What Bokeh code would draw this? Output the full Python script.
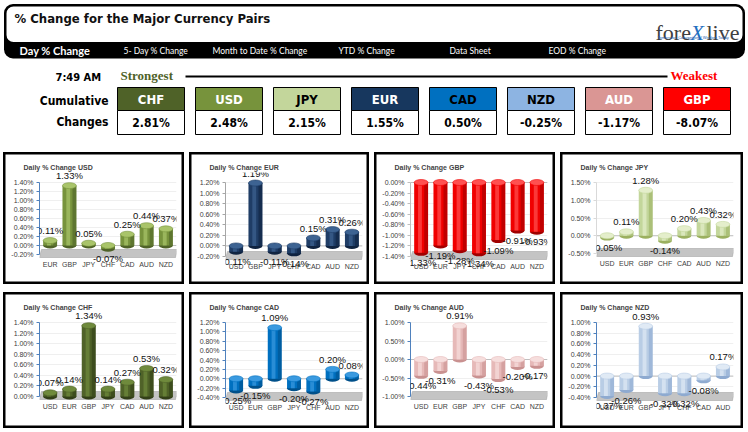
from bokeh.plotting import figure
from bokeh.models import Range1d, ColumnDataSource, LabelSet, FixedTicker, PrintfTickFormatter, Span
from bokeh.layouts import column, row
from bokeh.embed import file_html
from bokeh.resources import INLINE
from bokeh.core.properties import value

# ---------------- data ----------------
rank_ccy = ["CHF", "USD", "JPY", "EUR", "CAD", "NZD", "AUD", "GBP"]
rank_cum = [2.81, 2.48, 2.15, 1.55, 0.50, -0.25, -1.17, -8.07]
nav_items = ["5- Day % Change", "Month to Date % Change", "YTD % Change", "Data Sheet", "EOD % Change"]

usd_cats = ["EUR", "GBP", "JPY", "CHF", "CAD", "AUD", "NZD"]
usd_vals = [0.11, 1.33, 0.05, -0.07, 0.25, 0.44, 0.37]
usd_ticks = [-0.20, 0.00, 0.20, 0.40, 0.60, 0.80, 1.00, 1.20, 1.40]

eur_cats = ["USD", "GBP", "JPY", "CHF", "CAD", "AUD", "NZD"]
eur_vals = [-0.11, 1.19, -0.11, -0.14, 0.15, 0.31, 0.26]
eur_ticks = [-0.20, 0.00, 0.20, 0.40, 0.60, 0.80, 1.00, 1.20]

gbp_cats = ["USD", "EUR", "JPY", "CHF", "CAD", "AUD", "NZD"]
gbp_vals = [-1.33, -1.19, -1.28, -1.34, -1.09, -0.91, -0.93]
gbp_ticks = [-1.40, -1.20, -1.00, -0.80, -0.60, -0.40, -0.20, 0.00]

jpy_cats = ["USD", "EUR", "GBP", "CHF", "CAD", "AUD", "NZD"]
jpy_vals = [-0.05, 0.11, 1.28, -0.14, 0.20, 0.43, 0.32]
jpy_ticks = [-0.50, 0.00, 0.50, 1.00, 1.50]

chf_cats = ["USD", "EUR", "GBP", "JPY", "CAD", "AUD", "NZD"]
chf_vals = [0.07, 0.14, 1.34, 0.14, 0.27, 0.53, 0.32]
chf_ticks = [0.00, 0.20, 0.40, 0.60, 0.80, 1.00, 1.20, 1.40]

cad_cats = ["USD", "EUR", "GBP", "JPY", "CHF", "AUD", "NZD"]
cad_vals = [-0.25, -0.15, 1.09, -0.20, -0.27, 0.20, 0.08]
cad_ticks = [-0.40, -0.20, 0.00, 0.20, 0.40, 0.60, 0.80, 1.00, 1.20]

aud_cats = ["USD", "EUR", "GBP", "JPY", "CHF", "CAD", "NZD"]
aud_vals = [-0.44, -0.31, 0.91, -0.43, -0.53, -0.20, -0.17]
aud_ticks = [-1.00, -0.50, 0.00, 0.50, 1.00]

nzd_cats = ["USD", "EUR", "GBP", "JPY", "CHF", "CAD", "AUD"]
nzd_vals = [-0.37, -0.26, 0.93, -0.32, -0.32, -0.08, 0.17]
nzd_ticks = [-0.40, -0.20, 0.00, 0.20, 0.40, 0.60, 0.80, 1.00]

# ---------------- styles ----------------
COND = value("DejaVu Sans Condensed")
SANS = value("Liberation Sans")
SERIF = value("Liberation Serif")
box_fill = ["#4f6228", "#77933c", "#c3d69b", "#17375e", "#0070c0", "#8db4e2", "#da9694", "#ff0000"]
box_text = ["white", "white", "black", "white", "black", "black", "white", "white"]

# ---------------- header (1 unit = 1 px of the original) ----------------
hdr = figure(width=742, height=145, x_range=Range1d(3, 745), y_range=Range1d(148, 3),
             x_axis_type=None, y_axis_type=None, output_backend="svg", toolbar_location=None,
             min_border=0, outline_line_color=None, background_fill_color="white",
             border_fill_color="white")
hdr.grid.visible = False

hdr.quad(left=[3.5], right=[744.5], top=[3.5], bottom=[58], fill_color="black",
         line_color=None, border_radius=9)
hdr.quad(left=[6], right=[742], top=[6], bottom=[41.5], fill_color="white",
         line_color=None, border_radius=7)
hdr.text(x=[14], y=[18], text=["% Change for the Major Currency Pairs"], text_font=COND,
         text_font_style="bold", text_font_size="13px", text_baseline="middle", text_color="#111")
hdr.text(x=[655], y=[32], text=["fore"], text_font=SERIF, text_font_size="22px",
         text_color="#404040", text_baseline="alphabetic")
hdr.text(x=[690], y=[32], text=["X"], text_font=SERIF, text_font_size="22px",
         text_font_style="italic", text_color="#1f6fc0", text_baseline="alphabetic")
hdr.text(x=[706], y=[32], text=["live"], text_font=SERIF, text_font_size="22px",
         text_color="#404040", text_baseline="alphabetic")
hdr.text(x=[657], y=[37], text=["Tomorrows Conventional Wisdom Today"], text_font=SANS,
         text_font_size="4px", text_color="#2060b0", text_baseline="middle")

hdr.text(x=[19], y=[50], text=["Day % Change"], text_font=value("Lato"), text_font_style="bold",
         text_font_size="11px", text_color="white", text_baseline="middle")
nav_x = [123, 212, 338, 449, 548]
hdr.text(x=nav_x, y=[50] * len(nav_items), text=nav_items, text_font=value("Lato"),
         text_font_size="8.5px", text_color="white", text_baseline="middle")

hdr.text(x=[55], y=[77], text=["7:49 AM"], text_font=COND, text_font_style="bold",
         text_font_size="11px", text_color="black", text_baseline="middle")
hdr.text(x=[120], y=[75], text=["Strongest"], text_font=SERIF,
         text_font_style="bold", text_font_size="13px", text_color="#4f6228", text_baseline="middle")
hdr.segment(x0=[185], y0=[76], x1=[667], y1=[76], line_color="black", line_width=2)
hdr.text(x=[670], y=[75], text=["Weakest"], text_font=SERIF,
         text_font_style="bold", text_font_size="13px", text_color="#ff0000", text_baseline="middle")

bx = [150.5 + 78 * i for i in range(len(rank_ccy))]
bsrc = ColumnDataSource(dict(x=bx, ccy=rank_ccy, fill=box_fill, tc=box_text,
                             val=[f"{v:.2f}%" for v in rank_cum]))
hdr.rect(x="x", y=98.5, width=67, height=23, fill_color="fill", line_color="black",
         line_width=1, source=bsrc)
hdr.rect(x="x", y=122, width=67, height=24, fill_color="white", line_color="black",
         line_width=1, source=bsrc)
hdr.text(x="x", y=99, text="ccy", text_color="tc", text_font=COND, text_font_style="bold",
         text_font_size="13px", text_align="center", text_baseline="middle", source=bsrc)
hdr.text(x="x", y=122.5, text="val", text_color="black", text_font=COND, text_font_style="bold",
         text_font_size="12px", text_align="center", text_baseline="middle", source=bsrc)
hdr.text(x=[108, 108], y=[100, 121], text=["Cumulative", "Changes"], text_font=COND,
         text_font_style="bold", text_font_size="12px", text_align="right", text_baseline="middle",
         text_color="black")


# ---------------- panels ----------------
def make_panel(ccy, cats, vals, ticks, pal, axis_color, w, h, ymin_px):
    base, light, dark = pal
    n = len(cats)
    top_b = 20
    ymax_px = 30
    bot_b = 14
    frame_bottom = h - bot_b
    ymin, ymax = ticks[0], ticks[-1]
    u = (ymax - ymin) / (ymin_px - ymax_px)
    p = figure(width=w, height=h, output_backend="svg", toolbar_location=None,
               x_range=Range1d(-0.55, n - 0.45),
               y_range=Range1d(ymin - (frame_bottom - ymin_px) * u, ymax + 10 * u),
               min_border_left=36, min_border_right=w - 173, min_border_top=top_b,
               min_border_bottom=bot_b, border_fill_color=None, background_fill_color=None,
               outline_line_color=None, title=f"Daily % Change {ccy}",
               styles={"box-shadow": "inset 0 0 0 2.5px #000", "background-color": "#fff"})
    p.title.text_font = "Liberation Sans"
    p.title.text_font_style = "bold"
    p.title.text_font_size = "7px"
    p.title.align = "left"
    p.title.offset = -16
    p.title.standoff = 3

    # floor of the 3-D chart
    p.patch(x=[-0.55, n - 0.5, n - 0.4, -0.45],
            y=[ymin - 3 * u, ymin - 3 * u, ymin + 5 * u, ymin + 5 * u],
            fill_color="#c4c4c4", line_color="#a6a6a6", line_width=0.6)
    p.add_layout(Span(location=0, dimension="width", line_color="#bfbfbf", line_width=1,
                      level="underlay"))

    xs = list(range(n))
    bw = 0.72
    src = ColumnDataSource(dict(x=xs, lo=[min(0, v) for v in vals], hi=[max(0, v) for v in vals],
                                xh=[x - 0.06 for x in xs], xd=[x + 0.26 for x in xs]))
    p.ellipse(x="x", y="lo", width=bw, height=6, height_units="screen", fill_color=dark,
              line_color=None, source=src)
    p.vbar(x="x", bottom="lo", top="hi", width=bw, fill_color=base, line_color=None, source=src)
    p.vbar(x="xd", bottom="lo", top="hi", width=0.2, fill_color=dark, line_color=None,
           fill_alpha=0.6, source=src)
    p.vbar(x="xh", bottom="lo", top="hi", width=0.2, fill_color=light, line_color=None,
           fill_alpha=0.7, source=src)
    p.ellipse(x="x", y="hi", width=bw, height=6, height_units="screen", fill_color=light,
              line_color=base, line_width=0.6, source=src)

    lab = ColumnDataSource(dict(x=xs, y=vals, t=[f"{v:.2f}%" for v in vals],
                                off=[10 if v >= 0 else -10 for v in vals]))
    p.add_layout(LabelSet(x="x", y="y", text="t", y_offset="off", source=lab,
                          text_align="center", text_baseline="middle", text_font=SANS,
                          text_font_size="9.5px", text_color="#111"))

    p.yaxis.ticker = FixedTicker(ticks=ticks)
    p.yaxis.formatter = PrintfTickFormatter(format="%.2f%%")
    p.yaxis.bounds = (ymin, ymax)
    p.yaxis.axis_line_color = axis_color
    p.yaxis.major_tick_line_color = axis_color
    p.yaxis.major_tick_out = 3
    p.yaxis.major_tick_in = 0
    p.yaxis.minor_tick_line_color = None
    p.yaxis.major_label_text_font = "Liberation Sans"
    p.yaxis.major_label_text_font_size = "7px"
    p.yaxis.major_label_text_color = "#404040"
    p.yaxis.major_label_standoff = 3

    p.xaxis.ticker = FixedTicker(ticks=xs)
    p.xaxis.major_label_overrides = {i: c for i, c in enumerate(cats)}
    p.xaxis.fixed_location = ymin - 4 * u
    p.xaxis.axis_line_color = None
    p.xaxis.major_tick_line_color = None
    p.xaxis.major_tick_out = 0
    p.xaxis.major_tick_in = 0
    p.xaxis.minor_tick_line_color = None
    p.xaxis.major_label_text_font = "Liberation Sans"
    p.xaxis.major_label_text_font_size = "7px"
    p.xaxis.major_label_text_color = "#404040"
    p.xaxis.major_label_standoff = 2

    p.xgrid.visible = False
    p.ygrid.ticker = FixedTicker(ticks=ticks)
    p.ygrid.grid_line_color = "#efefef"
    return p


BLUE_AX = "#4f81bd"
p_usd = make_panel("USD", usd_cats, usd_vals, usd_ticks, ("#77933c", "#a9c46a", "#4f6228"), BLUE_AX, 181, 132, 102)
p_eur = make_panel("EUR", eur_cats, eur_vals, eur_ticks, ("#1f3d66", "#3d6392", "#0f2340"), "#a6a6a6", 180, 132, 104)
p_gbp = make_panel("GBP", gbp_cats, gbp_vals, gbp_ticks, ("#f00000", "#ff5050", "#a00000"), "#bfbfbf", 181, 132, 104)
p_jpy = make_panel("JPY", jpy_cats, jpy_vals, jpy_ticks, ("#c3d69b", "#e4eecb", "#9bb060"), "#d9d9d9", 183, 132, 101)
p_chf = make_panel("CHF", chf_cats, chf_vals, chf_ticks, ("#4f6228", "#6f8a3c", "#323f18"), BLUE_AX, 181, 136, 104)
p_cad = make_panel("CAD", cad_cats, cad_vals, cad_ticks, ("#0070c0", "#3a9ae0", "#00508a"), BLUE_AX, 180, 136, 105)
p_aud = make_panel("AUD", aud_cats, aud_vals, aud_ticks, ("#e6b9b8", "#f6dedd", "#c99190"), BLUE_AX, 181, 136, 104)
p_nzd = make_panel("NZD", nzd_cats, nzd_vals, nzd_ticks, ("#b9cde5", "#e0eaf5", "#8eaad0"), BLUE_AX, 183, 136, 105)

panels = column(row(p_usd, p_eur, p_gbp, p_jpy, spacing=5),
                row(p_chf, p_cad, p_aud, p_nzd, spacing=5),
                spacing=8)
layout = column(hdr, panels, spacing=4, styles={"margin-left": "3px", "margin-top": "3px"})

open("out.html", "w").write(file_html(layout, INLINE))
